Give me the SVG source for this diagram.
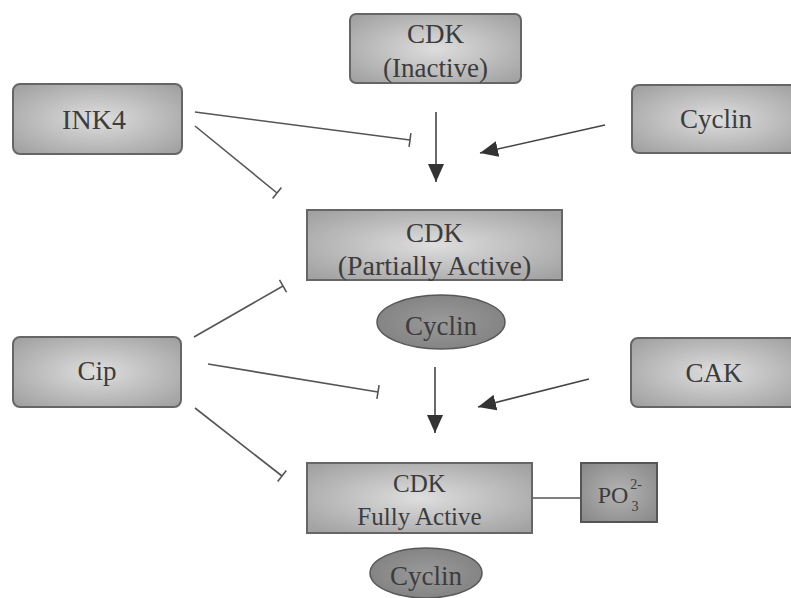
<svg xmlns="http://www.w3.org/2000/svg" width="791" height="598" viewBox="0 0 791 598">
<defs>
<radialGradient id="boxg" cx="50%" cy="50%" r="65%">
<stop offset="0" stop-color="#dedede"/>
<stop offset="1" stop-color="#a2a2a2"/>
</radialGradient>
<radialGradient id="pog" cx="50%" cy="50%" r="65%">
<stop offset="0" stop-color="#b4b4b4"/>
<stop offset="1" stop-color="#8a8a8a"/>
</radialGradient>
<radialGradient id="ellg" cx="50%" cy="50%" r="60%">
<stop offset="0" stop-color="#9a9a9a"/>
<stop offset="1" stop-color="#808080"/>
</radialGradient>
<marker id="arr" viewBox="0 0 18 16" refX="18" refY="8" markerWidth="18" markerHeight="16" markerUnits="userSpaceOnUse" orient="auto">
<path d="M0,0 L18,8 L0,16 z" fill="#333"/>
</marker>
<style>
.box{fill:url(#boxg);stroke:#666;stroke-width:2}
.po{fill:url(#pog);stroke:#555;stroke-width:2}
.ell{fill:url(#ellg);stroke:#585858;stroke-width:1.5}
.t{font-family:"Liberation Serif","Times New Roman",serif;font-size:27px;fill:#3c3c3c;text-anchor:middle}
.c{stroke:#555;stroke-width:1.6;fill:none}
.a{stroke:#444;stroke-width:1.6;fill:none;marker-end:url(#arr)}
</style>
</defs>
<rect width="791" height="598" fill="#ffffff"/>

<g id="connectors">
<line class="c" x1="195" y1="112" x2="410" y2="140"/>
<line class="c" x1="410.9" y1="133.1" x2="409.1" y2="146.9"/>
<line class="c" x1="195" y1="126" x2="277" y2="193"/>
<line class="c" x1="281.4" y1="187.6" x2="272.6" y2="198.4"/>
<line class="c" x1="194" y1="337" x2="283" y2="286"/>
<line class="c" x1="286.5" y1="292.1" x2="279.5" y2="279.9"/>
<line class="c" x1="208" y1="364" x2="378" y2="392"/>
<line class="c" x1="376.9" y1="398.9" x2="379.1" y2="385.1"/>
<line class="c" x1="195" y1="408" x2="282" y2="476"/>
<line class="c" x1="286.3" y1="470.5" x2="277.7" y2="481.5"/>
<line class="a" x1="436" y1="112" x2="436" y2="182"/>
<line class="a" x1="605" y1="125" x2="480" y2="153"/>
<line class="a" x1="435" y1="367" x2="435" y2="433"/>
<line class="a" x1="589" y1="379" x2="478" y2="407"/>
<line class="c" x1="532" y1="498" x2="581" y2="498"/>
</g>

<g id="cdk-inactive">
<rect class="box" x="350" y="14" width="171" height="69" rx="6"/>
<text class="t" x="435.5" y="43">CDK</text>
<text class="t" x="435.5" y="77">(Inactive)</text>
</g>

<g id="ink4">
<rect class="box" x="13" y="84" width="169" height="70" rx="7"/>
<text class="t" x="94" y="129" style="font-size:28px">INK4</text>
</g>

<g id="cyclin-top">
<rect class="box" x="632" y="85" width="170" height="68" rx="7"/>
<text class="t" x="716" y="128">Cyclin</text>
</g>

<g id="cdk-partial">
<rect class="box" x="307" y="210" width="255" height="70"/>
<text class="t" x="434.5" y="242">CDK</text>
<text class="t" x="434.5" y="275" style="font-size:28px">(Partially Active)</text>
</g>

<g id="cyclin-mid">
<ellipse class="ell" cx="441" cy="322" rx="64" ry="27"/>
<text class="t" x="441" y="335">Cyclin</text>
</g>

<g id="cip">
<rect class="box" x="13" y="337" width="168" height="70" rx="7"/>
<text class="t" x="97" y="380">Cip</text>
</g>

<g id="cak">
<rect class="box" x="631" y="338" width="170" height="69" rx="7"/>
<text class="t" x="714" y="382">CAK</text>
</g>

<g id="cdk-full">
<rect class="box" x="307" y="463" width="225" height="70"/>
<text class="t" x="419.5" y="492" style="font-size:25px">CDK</text>
<text class="t" x="419.5" y="525" style="font-size:25px">Fully Active</text>
</g>

<g id="po3">
<rect class="po" x="581" y="463" width="76" height="59"/>
<text class="t" x="613" y="503" style="font-size:24px">PO</text>
<text class="t" x="636" y="489" style="font-size:14px">2-</text>
<text class="t" x="635" y="511" style="font-size:14px">3</text>
</g>

<g id="cyclin-bottom">
<ellipse class="ell" cx="426" cy="573" rx="56" ry="25"/>
<text class="t" x="426" y="585">Cyclin</text>
</g>
</svg>
